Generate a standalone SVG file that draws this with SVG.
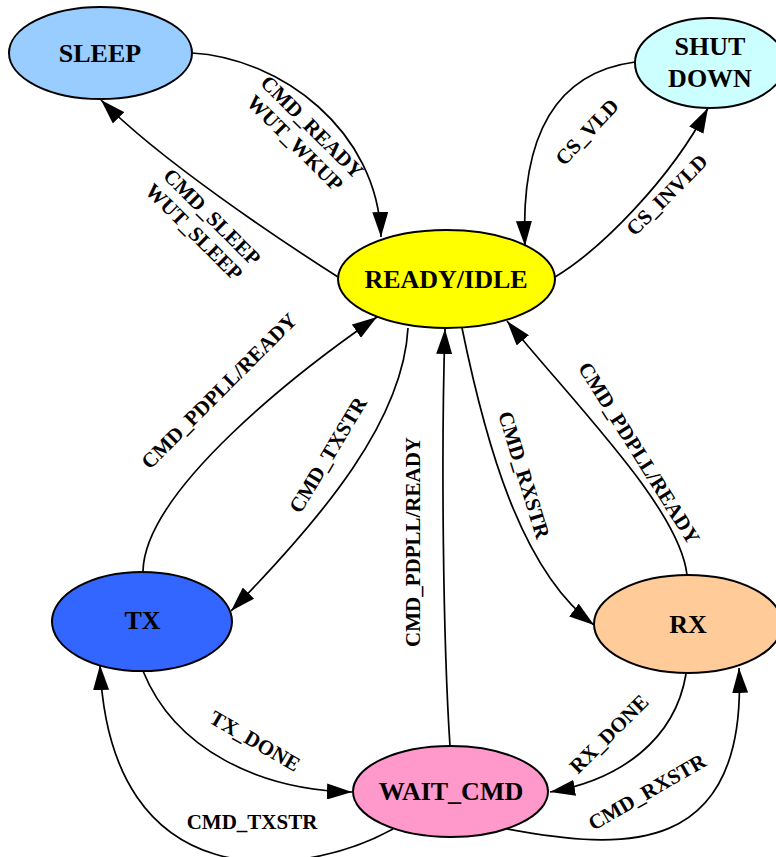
<svg xmlns="http://www.w3.org/2000/svg" width="776" height="857" viewBox="0 0 776 857">
<defs>
<marker id="arr" markerUnits="userSpaceOnUse" markerWidth="25" markerHeight="16" refX="25" refY="8" orient="auto" viewBox="0 0 25 16">
<path d="M0,0 L25,8 L0,16 z" fill="#000"/>
</marker>
<style>
.node ellipse{stroke:#000;stroke-width:2}
.nt{font-family:"Liberation Serif","Times New Roman",serif;font-weight:bold;font-size:26px;text-anchor:middle;fill:#000}
.edge{fill:none;stroke:#000;stroke-width:1.7;marker-end:url(#arr)}
.lb{font-family:"Liberation Serif","Times New Roman",serif;font-weight:bold;font-size:21px;text-anchor:middle;fill:#000}
</style>
</defs>
<rect width="776" height="857" fill="#fff"/>
<g id="connectors">
<path class="edge" d="M192,53 C280,58 378,130 381,237"/>
<path class="edge" d="M338,277 C280,240 160,160 101,100"/>
<path class="edge" d="M635,62 C560,72 520,130 525,246"/>
<path class="edge" d="M555,277 C600,250 670,180 708,108"/>
<path class="edge" d="M143,571 C145,490 300,370 377,317"/>
<path class="edge" d="M408,328 C403,420 325,515 231,611"/>
<path class="edge" d="M450,746 C443,640 441,450 445,329"/>
<path class="edge" d="M462,328 C485,440 520,570 594,625"/>
<path class="edge" d="M687,575 C680,510 580,410 507,321"/>
<path class="edge" d="M143,671 C175,750 260,790 352,792"/>
<path class="edge" d="M393,829 C300,880 110,900 100,665"/>
<path class="edge" d="M686,674 C675,740 620,780 550,792"/>
<path class="edge" d="M507,829 C620,850 748,860 739,668"/>
<text class="lb" transform="translate(312,127) rotate(45)" y="7">CMD_READY</text>
<text class="lb" transform="translate(295,143) rotate(45)" y="7">WUT_WKUP</text>
<text class="lb" transform="translate(212,217) rotate(45)" y="7">CMD_SLEEP</text>
<text class="lb" transform="translate(194,232) rotate(45)" y="7">WUT_SLEEP</text>
<text class="lb" transform="translate(587,132) rotate(-47)" y="7">CS_VLD</text>
<text class="lb" transform="translate(667,195) rotate(-45)" y="7">CS_INVLD</text>
<text class="lb" transform="translate(219,391) rotate(-45)" y="7">CMD_PDPLL/READY</text>
<text class="lb" transform="translate(328,455) rotate(-59)" y="7">CMD_TXSTR</text>
<text class="lb" transform="translate(413,542) rotate(-90)" y="7">CMD_PDPLL/READY</text>
<text class="lb" transform="translate(524,475) rotate(73)" y="7">CMD_RXSTR</text>
<text class="lb" transform="translate(639,453) rotate(58)" y="7">CMD_PDPLL/READY</text>
<text class="lb" transform="translate(255,741) rotate(30)" y="7">TX_DONE</text>
<text class="lb" x="252" y="829">CMD_TXSTR</text>
<text class="lb" transform="translate(609,734) rotate(-45)" y="7">RX_DONE</text>
<text class="lb" transform="translate(647,792) rotate(-30)" y="7">CMD_RXSTR</text>
</g>
<g id="sleep" class="node">
<ellipse cx="100.5" cy="53" rx="91.5" ry="46" fill="#99ccff"/>
<text class="nt" x="100" y="62">SLEEP</text>
</g>
<g id="shutdown" class="node">
<ellipse cx="710" cy="63" rx="75" ry="45" fill="#ccffff"/>
<text class="nt" x="710" y="55">SHUT</text>
<text class="nt" x="710" y="87">DOWN</text>
</g>
<g id="ready" class="node">
<ellipse cx="446.5" cy="279" rx="108.5" ry="49" fill="#ffff00"/>
<text class="nt" x="446" y="288">READY/IDLE</text>
</g>
<g id="tx" class="node">
<ellipse cx="142" cy="621.5" rx="90" ry="49.5" fill="#3366ff"/>
<text class="nt" x="142.5" y="629">TX</text>
</g>
<g id="rx" class="node">
<ellipse cx="688" cy="624" rx="94" ry="49" fill="#ffcc99"/>
<text class="nt" x="688" y="633">RX</text>
</g>
<g id="waitcmd" class="node">
<ellipse cx="450.5" cy="791.5" rx="97.5" ry="45.5" fill="#ff99cc"/>
<text class="nt" x="451" y="800">WAIT_CMD</text>
</g>
</svg>
